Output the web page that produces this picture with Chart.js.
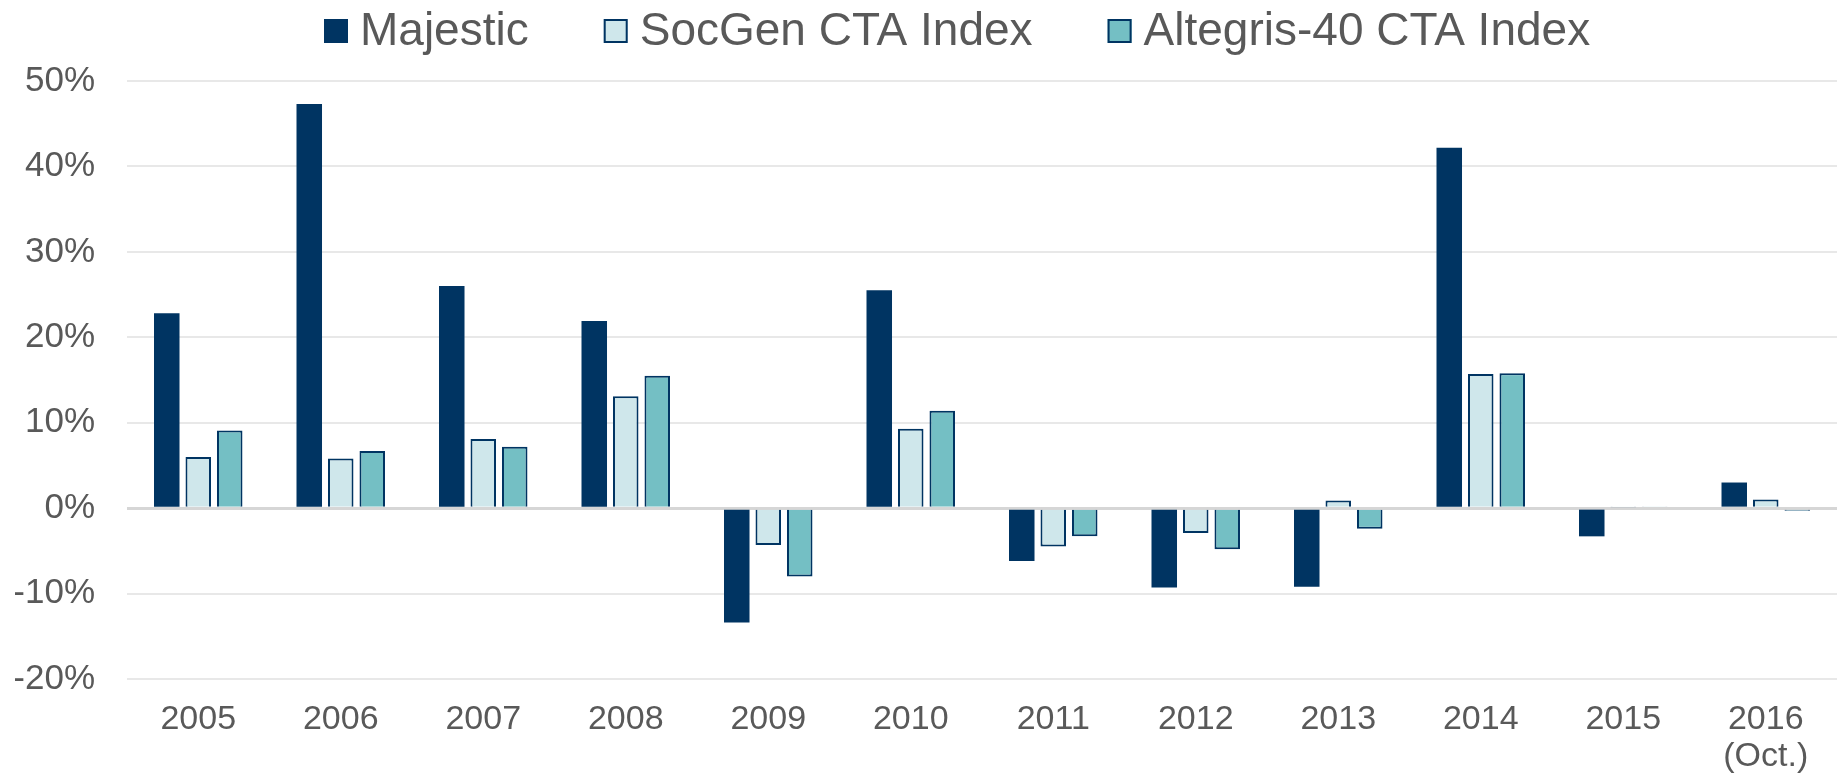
<!DOCTYPE html>
<html>
<head>
<meta charset="utf-8">
<script src="https://cdn.jsdelivr.net/npm/chart.js@4"></script>
<style>
  html, body { margin: 0; padding: 0; background: #fff; }
  #wrap { width: 1844px; height: 778px; position: relative; }
</style>
</head>
<body>
<div id="wrap"><canvas id="returnsChart"></canvas></div>
<script>
const years = ["2005", "2006", "2007", "2008", "2009", "2010", "2011", "2012", "2013", "2014", "2015", ["2016", "(Oct.)"]];
const majestic = [22.8, 47.3, 26.0, 21.9, -13.4, 25.5, -6.2, -9.3, -9.2, 42.2, -3.3, 3.0];
const socgen = [6.0, 5.8, 8.1, 13.1, -4.3, 9.3, -4.5, -2.9, 0.9, 15.7, 0.1, 1.0];
const altegris = [9.1, 6.7, 7.2, 15.5, -8.0, 11.4, -3.3, -4.8, -2.4, 15.8, 0.2, -0.3];
const yTicks = [-20, -10, 0, 10, 20, 30, 40, 50];

const FONT = '"Liberation Sans", Arial, sans-serif';
const NAVY = "#003462";
const TEXT = "#595959";

// legend drawn by hand so the box/text spacing follows the original
const topLegend = {
    id: "topLegend",
    afterDraw(chart) {
        const ctx = chart.ctx;
        ctx.save();
        ctx.font = "46px " + FONT;
        ctx.textBaseline = "alphabetic";
        let x = 324;
        chart.data.datasets.forEach(ds => {
            ctx.fillStyle = ds.backgroundColor;
            ctx.fillRect(x, 19, 24, 24);
            if (ds.borderWidth) {
                ctx.strokeStyle = NAVY;
                ctx.lineWidth = 2;
                ctx.strokeRect(x + 1, 20, 22, 22);
            }
            ctx.fillStyle = TEXT;
            ctx.fillText(ds.label, x + 36, 45);
            x += 36 + ctx.measureText(ds.label).width + 75;
        });
        ctx.restore();
    }
};

new Chart(document.getElementById("returnsChart"), {
    type: "bar",
    data: {
        labels: years,
        datasets: [
            { label: "Majestic", data: majestic, backgroundColor: NAVY, borderWidth: 0 },
            { label: "SocGen CTA Index", data: socgen, backgroundColor: "#CFE7EB", borderColor: NAVY, borderWidth: 2 },
            { label: "Altegris-40 CTA Index", data: altegris, backgroundColor: "#74BFC4", borderColor: NAVY, borderWidth: 2 }
        ]
    },
    options: {
        responsive: true,
        maintainAspectRatio: false,
        animation: false,
        layout: { padding: { top: 81, left: 15, right: 7, bottom: 2 } },
        datasets: {
            bar: { categoryPercentage: 0.663, barPercentage: 0.81 }
        },
        scales: {
            x: {
                afterFit: axis => { axis.height = 97; },
                grid: { display: false, drawTicks: false },
                border: { display: false },
                ticks: {
                    color: TEXT,
                    padding: 22,
                    maxRotation: 0,
                    autoSkip: false,
                    font: { family: FONT, size: 34, lineHeight: 1.1 }
                }
            },
            y: {
                min: -20,
                max: 50,
                afterBuildTicks: axis => { axis.ticks = yTicks.map(v => ({ value: v })); },
                afterFit: axis => { axis.width = 112; },
                border: { display: false },
                grid: {
                    drawTicks: false,
                    color: c => c.tick && c.tick.value === 0 ? "#D6D6D6" : "#E8E8E8",
                    lineWidth: c => c.tick && c.tick.value === 0 ? 3 : 2
                },
                ticks: {
                    color: TEXT,
                    padding: 32,
                    font: { family: FONT, size: 35 },
                    callback: value => value + "%"
                }
            }
        },
        plugins: {
            legend: { display: false },
            tooltip: { enabled: false }
        }
    },
    plugins: [topLegend]
});
</script>
</body>
</html>
